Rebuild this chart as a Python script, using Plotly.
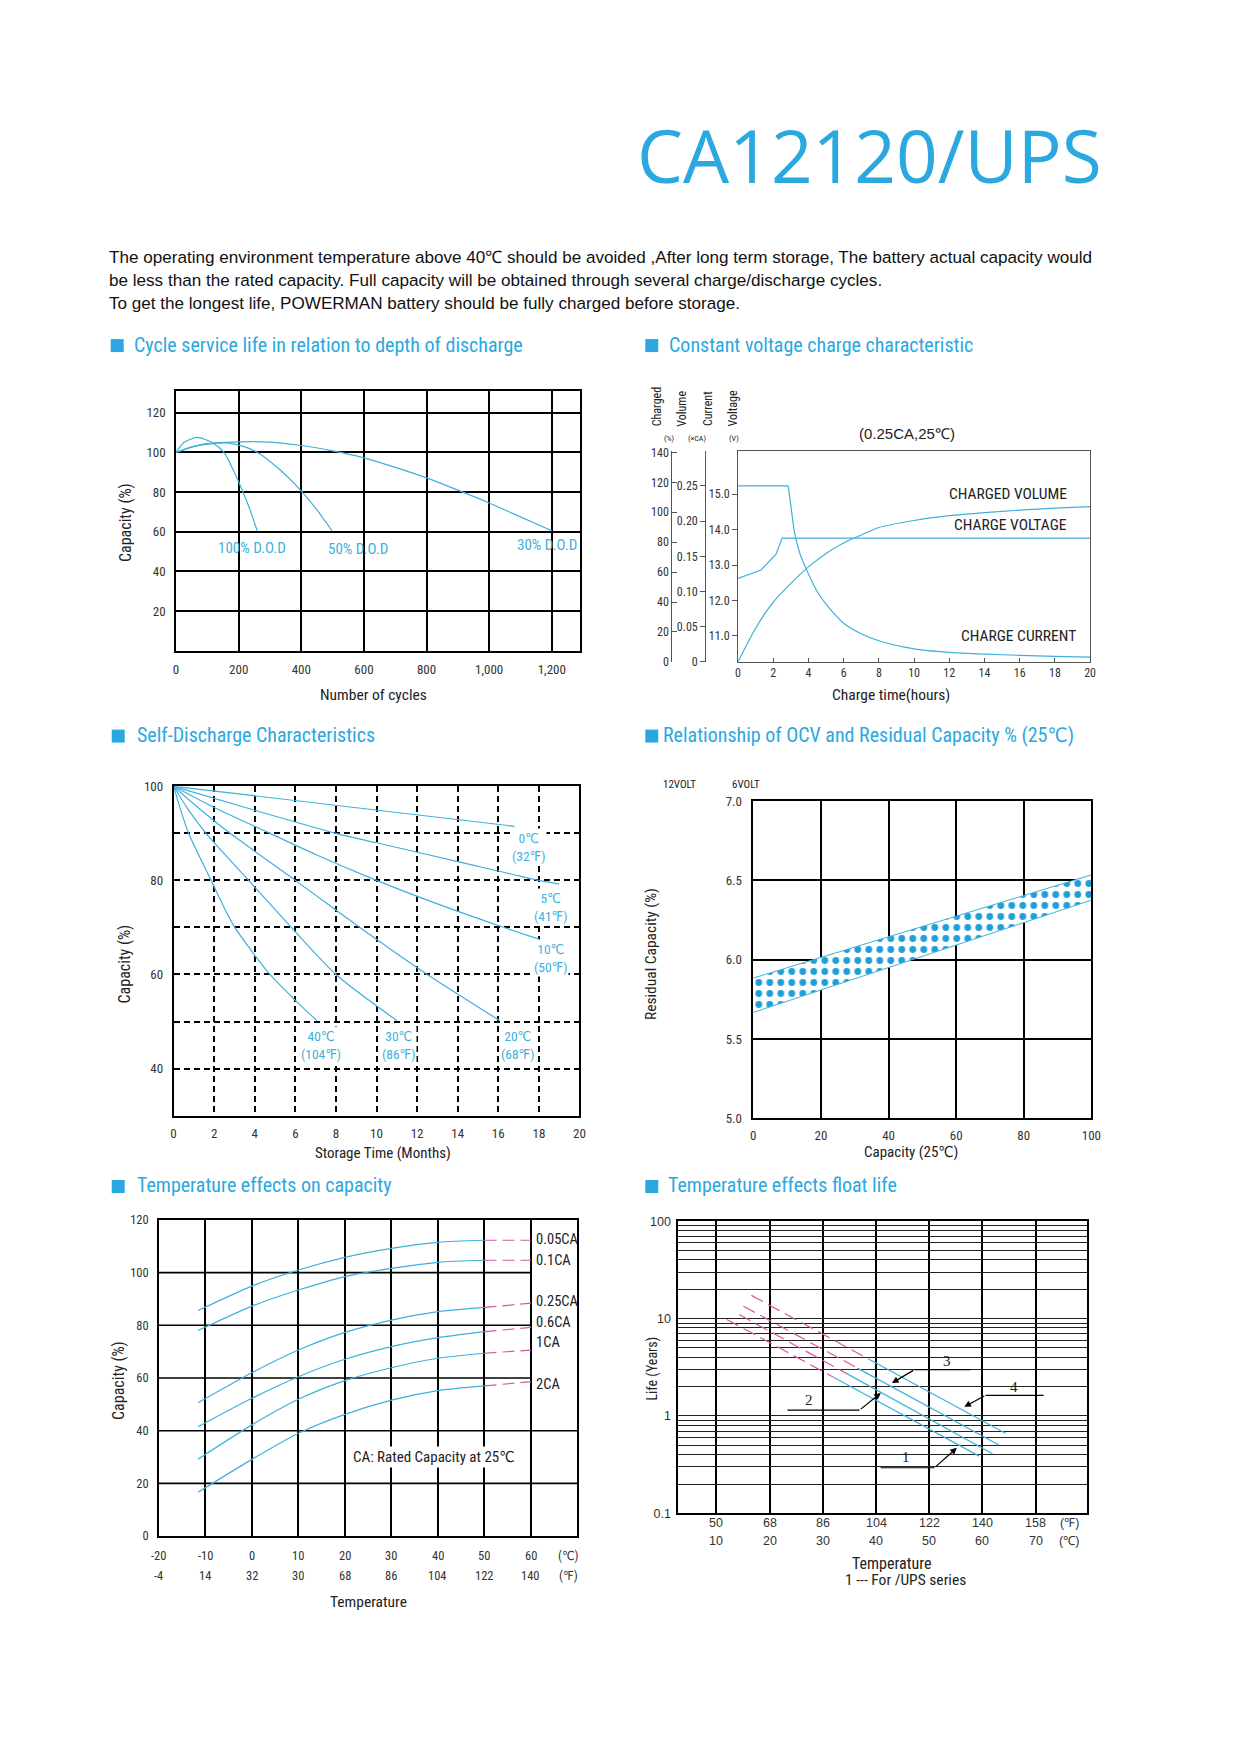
import math
import plotly.graph_objects as go

# the page is photographed a little shrunk and shifted; page coordinates read from the
# reference are mapped back through that (measured) transform
SCALE = 0.992
CX, CY = 10, 14
W, H = 1220, 1725
BLUE = '#3fb0dc'
PINK = '#d9589f'
TITLE_BLUE = '#2aa8df'
INK = '#222222'
NARROW = 'Liberation Sans Narrow, Arial Narrow, Roboto Condensed, DejaVu Sans Condensed, Liberation Sans, sans-serif'
REGULAR = 'Liberation Sans, Arial, sans-serif'

# --- Cycle service life vs depth of discharge ---
cycles_100 = [0, 25, 68, 115, 153, 180, 206, 233, 259]
cap_100 = [100, 105, 107.6, 105, 100, 92, 83, 72.5, 60.5]
cycles_50 = [0, 50, 100, 160, 210, 260, 330, 400, 450, 498]
cap_50 = [100, 102.8, 104.2, 104.8, 103.3, 100, 91.5, 80.5, 71, 60.5]
cycles_30 = [0, 80, 200, 300, 400, 500, 600, 700, 800, 900, 1000, 1100, 1200]
cap_30 = [100, 104, 105.3, 105.2, 103.5, 100.8, 97.3, 92.5, 87.2, 81, 74.5, 67.5, 60.5]
dod_labels = ['100% D.O.D', '50% D.O.D', '30% D.O.D']

# --- Constant voltage charge characteristic ---
t_current = [0, 2.85, 3.0, 3.2, 3.5, 4.0, 4.5, 5.0, 6.0, 7.0, 8.0, 10, 12, 14, 16, 18, 20]
charge_current = [0.25, 0.25, 0.222, 0.185, 0.155, 0.125, 0.1, 0.082, 0.055, 0.04, 0.03,
                  0.0185, 0.0135, 0.011, 0.0093, 0.0078, 0.0066]
t_voltage = [0, 1.3, 2.15, 2.35, 2.5, 20]
charge_voltage = [12.62, 12.86, 13.3, 13.6, 13.76, 13.76]
t_volume = [0, 1, 2, 3, 4, 5, 6, 7, 8, 10, 12, 14, 16, 18, 20]
charged_volume = [0, 22.5, 40, 52.5, 63.5, 72.5, 79.5, 84.8, 89.8, 94.5, 97.7, 99.8, 101.4, 102.7, 103.7]

# --- Self-discharge ---
sd_months = {
    '0': [0, 16.8],
    '5': [0, 4, 8, 10, 14, 18, 19],
    '10': [0, 2, 4.75, 7, 10, 13, 16.07, 18],
    '20': [0, 1.2, 2.79, 6, 9.18, 12.5, 16.07],
    '30': [0, 0.7, 1.6, 3.7, 5.8, 8.0, 11.0],
    '40': [0, 0.35, 0.74, 1.85, 2.95, 4.75, 6.0, 7.06],
}
sd_capacity = {
    '0': [100, 91.5],
    '5': [100, 94.9, 90, 88, 84, 80, 79.2],
    '10': [100, 95.5, 90, 85.5, 80, 75, 70.3, 67.5],
    '20': [100, 95.5, 90, 80, 70, 60, 50.2],
    '30': [100, 95.2, 90, 80, 70, 60, 50.2],
    '40': [100, 95, 90, 80, 70.5, 60, 54.5, 50.2],
}
sd_labels = ['0℃<br>(32℉)', '5℃<br>(41℉)', '10℃<br>(50℉)',
             '40℃<br>(104℉)', '30℃<br>(86℉)', '20℃<br>(68℉)']

# --- OCV vs residual capacity ---
ocv_capacity = [0, 100]
ocv_upper_6v = [5.884, 6.534]
ocv_lower_6v = [5.667, 6.375]

# --- Temperature effects on capacity ---
temp_c = [-11.6, 0, 10, 20, 30, 40, 50]
temp_ext = [50, 60]
cap_rates = ['0.05CA', '0.1CA', '0.25CA', '0.6CA', '1CA', '2CA']
cap_by_rate = [
    [85.6, 94.9, 101, 105.8, 109.2, 111.5, 112.3],
    [78, 87.3, 93.4, 98.5, 101.6, 103.9, 104.7],
    [50.6, 62, 70.6, 77.3, 82, 85.2, 86.8],
    [41.5, 52.3, 60.5, 67.1, 71.9, 75.3, 77.6],
    [29.2, 42.2, 51.9, 59, 63.9, 67.5, 69.4],
    [16.6, 29.1, 39, 46.2, 51.6, 55.2, 57],
]
cap_ext_end = [112.3, 104.7, 88.4, 79.2, 70.6, 58.6]
temp_c_ticks = [-20, -10, 0, 10, 20, 30, 40, 50, 60]
temp_f_ticks = ['-4', '14', '32', '30', '68', '86', '104', '122', '140']

# --- Temperature effects float life ---
fl_start_x = [11.94, 14.25, 15.06, 16.56]
fl_start_y = [9.8, 11.0, 13.4, 17.3]
fl_mid_x = [32.0, 34.5, 36.5, 38.5]
fl_mid_y = [2.50, 2.72, 3.10, 3.87]
fl_end_x = [59.4, 61.9, 63.2, 64.4]
fl_end_y = [0.387, 0.41, 0.50, 0.66]
fl_c_ticks = [10, 20, 30, 40, 50, 60, 70]
fl_f_ticks = ['50', '68', '86', '104', '122', '140', '158']


def fx(x):
    return (x - CX) / SCALE / W


def fy(y):
    return 1 - (y - CY) / SCALE / H


def dom_x(a, b):
    return [fx(a), fx(b)]


def dom_y(top, bottom):
    return [fy(bottom), fy(top)]


def line(x, y, xa, ya, color=BLUE, dash=None, shape='spline', width=1.2):
    return go.Scatter(x=x, y=y, mode='lines', xaxis=xa, yaxis=ya, hoverinfo='skip',
                      showlegend=False,
                      line=dict(color=color, width=width, dash=dash, shape=shape,
                                smoothing=0.7 if shape == 'spline' else None))


annotations = []
shapes = []


def note(x, y, text, size, color=INK, family=NARROW, xanchor='center', yanchor='middle',
         angle=0, xref='paper', yref='paper', bg=None):
    if xref == 'paper':
        x = fx(x)
    if yref == 'paper':
        y = fy(y)
    d = dict(x=x, y=y, xref=xref, yref=yref, text=text, showarrow=False,
             font=dict(size=size, color=color, family=family),
             xanchor=xanchor, yanchor=yanchor, textangle=angle)
    if bg:
        d['bgcolor'] = bg
    annotations.append(d)


fig = go.Figure()

# chart 1
for xs, ys in [(cycles_100, cap_100), (cycles_50, cap_50), (cycles_30, cap_30)]:
    fig.add_trace(line(xs, ys, 'x', 'y'))
for lbl, (lx, ly) in zip(dod_labels, [(241, 51.9), (581, 51.4), (1185, 53.4)]):
    note(lx, ly, lbl, 15, color=BLUE, xref='x', yref='y')

# chart 2
fig.add_trace(line(t_current[:2], charge_current[:2], 'x2', 'y3', shape='linear'))
fig.add_trace(line(t_current[1:], charge_current[1:], 'x2', 'y3'))
fig.add_trace(line(t_voltage, charge_voltage, 'x2', 'y2', shape='linear'))
fig.add_trace(line(t_volume, charged_volume, 'x2', 'y4'))

# chart 3
for key in sd_months:
    fig.add_trace(line(sd_months[key], sd_capacity[key], 'x3', 'y5'))
sd_label_pos = [(16.56, 87), (17.66, 74.4), (17.66, 63.4), (6.19, 44.9), (10.17, 44.9), (16.04, 44.9)]
for lbl, (lx, ly) in zip(sd_labels, sd_label_pos):
    note(lx, ly, lbl, 13.5, color=BLUE, xanchor='left', xref='x3', yref='y5', bg='white')

# chart 4
fig.add_trace(line(ocv_capacity, ocv_lower_6v, 'x4', 'y6', shape='linear', width=1))
fig.add_trace(go.Scatter(x=ocv_capacity, y=ocv_upper_6v, mode='lines', xaxis='x4', yaxis='y6',
                         fill='tonexty', fillcolor='white', hoverinfo='skip', showlegend=False,
                         fillpattern=dict(shape='.', fgcolor='#1f9fd9', fgopacity=1,
                                          bgcolor='white', size=11, solidity=0.3),
                         line=dict(color=BLUE, width=1)))

# chart 5
for i, ys in enumerate(cap_by_rate):
    fig.add_trace(line(temp_c, ys, 'x5', 'y8'))
    fig.add_trace(line(temp_ext, [ys[-1], cap_ext_end[i]], 'x5', 'y8', color=PINK,
                       dash='12px,6px', shape='linear'))
for lbl, ly in zip(cap_rates, [112.4, 104.6, 89, 81, 73.4, 57.7]):
    note(60.6, ly, lbl, 14.5, xanchor='left', xref='x5', yref='y8')
note(21.2, 30.1, 'CA: Rated Capacity at 25℃', 15, xanchor='left', xref='x5', yref='y8', bg='white')
for yv, x_end in [(20, 70), (40, 70), (60, 60), (80, 60), (100, 60)]:
    shapes.append(dict(type='line', xref='x5', yref='y8', x0=-20, x1=x_end, y0=yv, y1=yv,
                       line=dict(color='black', width=1.6), layer='below'))
for tc, tf in zip(temp_c_ticks, temp_f_ticks):
    note(tc, 1555, str(tc), 12.5, xref='x5', color='#333')
    note(tc, 1576, tf, 12.5, xref='x5', color='#333')
note(68, 1555, '(℃)', 12.5, xref='x5', color='#333')
note(68, 1576, '(℉)', 12.5, xref='x5', color='#333')

# chart 6
for i in range(4):
    fig.add_trace(line([fl_start_x[i], fl_mid_x[i]], [fl_start_y[i], fl_mid_y[i]], 'x6', 'y9',
                       color=PINK, dash='13px,6px', shape='linear'))
    fig.add_trace(line([fl_mid_x[i], fl_end_x[i]], [fl_mid_y[i], fl_end_y[i]], 'x6', 'y9',
                       shape='linear'))
# leader lines: (label, label pos, elbow, target, horizontal length px)
leaders = [
    ('3', (53.3, 3.67), (47.25, 2.99), (43.0, 2.18), 57),
    ('4', (65.9, 1.99), (60.6, 1.63), (56.6, 1.24), 59),
    ('2', (27.4, 1.45), (36.9, 1.146), (40.9, 1.725), -73),
    ('1', (45.7, 0.381), (51.0, 0.294), (55.2, 0.471), -55),
]
PXC = 16 / 3 / SCALE          # px per degC
PXD = 292.7 / 3 / SCALE       # px per decade
for lbl, (tx, ty), (ex, ey), (gx, gy), hl in leaders:
    note(tx, math.log10(ty), lbl, 15, family='Liberation Serif, serif', xref='x6', yref='y9')
    annotations.append(dict(x=ex, y=math.log10(ey), xref='x6', yref='y9', text='',
                            showarrow=True, arrowhead=0, arrowwidth=1.2, arrowcolor='black',
                            ax=hl / SCALE, ay=0, standoff=0, startstandoff=0))
    annotations.append(dict(x=gx, y=math.log10(gy), xref='x6', yref='y9', text='',
                            showarrow=True, arrowhead=2, arrowsize=1.1, arrowwidth=1.2,
                            arrowcolor='black',
                            ax=(ex - gx) * PXC, ay=-(math.log10(ey) - math.log10(gy)) * PXD,
                            standoff=0, startstandoff=0))
for tc, tf in zip(fl_c_ticks, fl_f_ticks):
    note(tc, 1523, tf, 12.5, family=REGULAR, xref='x6', color='#333')
    note(tc, 1541, str(tc), 12.5, family=REGULAR, xref='x6', color='#333')
note(1071, 1523, '(℉)', 12.5, family=REGULAR, color='#333')
note(1071, 1541, '(℃)', 12.5, family=REGULAR, color='#333')

# --- page text ---
note(871, 153, 'CA12120/UPS', 73, color=TITLE_BLUE, family='Open Sans, sans-serif')
body = [
    'The operating environment temperature above 40℃ should be avoided ,After long term storage, The battery actual capacity would',
    'be less than the rated capacity. Full capacity will be obtained through several charge/discharge cycles.',
    'To get the longest life, POWERMAN battery should be fully charged before storage.',
]
for txt, yy in zip(body, [256, 279, 302]):
    note(106, yy, txt, 17.1, family=REGULAR, xanchor='left', color='#111')

sections = [
    (110, 131, 344, 'Cycle service life in relation to depth of discharge'),
    (646, 668, 344, 'Constant voltage charge characteristic'),
    (111, 134, 735, 'Self-Discharge Characteristics'),
    (646, 662, 735, 'Relationship of OCV and Residual Capacity % (25℃)'),
    (111, 134, 1186, 'Temperature effects on capacity'),
    (646, 667, 1186, 'Temperature effects float life'),
]
for sx, tx, sy, txt in sections:
    shapes.append(dict(type='rect', xref='paper', yref='paper', x0=fx(sx), x1=fx(sx + 13),
                       y0=fy(sy + 6.5), y1=fy(sy - 6.5),
                       fillcolor=TITLE_BLUE, line=dict(width=0)))
    note(tx, sy - 1, txt, 20, color=TITLE_BLUE, xanchor='left')

# axis titles
note(125, 521, 'Capacity (%)', 16, angle=-90)
note(373, 694, 'Number of cycles', 15.5)
note(892, 694, 'Charge time(hours)', 15.5)
for xx, txt in [(658, 'Charged'), (683, 'Volume'), (709, 'Current'), (734, 'Voltage')]:
    note(xx, 427, txt, 12, angle=-90, yanchor='bottom')
for xx, txt in [(670, '(%)'), (698, '(×CA)'), (735, '(V)')]:
    note(xx, 437, txt, 8)
note(908, 432, '(0.25CA,25℃)', 15, family=REGULAR)
note(1071, 493, 'CHARGED VOLUME', 15.5, xanchor='right')
note(1071, 524, 'CHARGE VOLTAGE', 15.5, xanchor='right')
note(1080, 635, 'CHARGE CURRENT', 15.5, xanchor='right')
note(124, 963, 'Capacity (%)', 16, angle=-90)
note(383, 1152, 'Storage Time (Months)', 15)
note(652, 953, 'Residual Capacity (%)', 15.5, angle=-90)
note(912, 1151, 'Capacity (25℃)', 15)
note(680, 783, '12VOLT', 11)
note(747, 783, '6VOLT', 11)
note(118, 1380, 'Capacity (%)', 16, angle=-90)
note(368, 1602, 'Temperature', 15.5)
note(653, 1368, 'Life (Years)', 14, angle=-90)
note(893, 1563, 'Temperature', 16)
note(907, 1580, '1 --- For /UPS series', 15.5)

tick = dict(family=NARROW, size=13, color='#333')
frame = dict(showline=True, mirror=True, linecolor='black', linewidth=1.5, zeroline=False)
grid = dict(showgrid=True, gridcolor='black', gridwidth=1.6)

log_vals = [m * 10 ** e for e in (-1, 0, 1) for m in range(1, 10)] + [100]
log_text = ['0.1' if v == 0.1 else '1' if v == 1 else '10' if v == 10 else '100' if v == 100 else ''
            for v in log_vals]

fig.update_layout(
    width=W, height=H, margin=dict(l=0, r=0, t=0, b=0),
    paper_bgcolor='white', plot_bgcolor='white', showlegend=False,
    annotations=annotations, shapes=shapes,
    # chart 1
    xaxis=dict(domain=dom_x(175.5, 580.5), anchor='y', range=[0, 1290],
               tickvals=[0, 200, 400, 600, 800, 1000, 1200], tickformat=',', tickfont=tick,
               ticklabelstandoff=6, **frame, **grid),
    yaxis=dict(domain=dom_y(389.5, 649.5), anchor='x', range=[0, 131],
               tickvals=[20, 40, 60, 80, 100, 120], tickfont=tick, ticklabelstandoff=6,
               **frame, **grid),
    # chart 2
    xaxis2=dict(domain=dom_x(739, 1092), anchor='y2', range=[0, 20], dtick=2,
                ticks='inside', ticklen=4, tickcolor='#555', tickfont=dict(tick, size=12),
                showgrid=False, showline=True, mirror=True, linecolor='#555', linewidth=1,
                zeroline=False),
    yaxis2=dict(domain=dom_y(449.3, 660.7), anchor='x2', range=[10.27, 16.22],
                tickvals=[11, 12, 13, 14, 15], ticktext=['11.0', '12.0', '13.0', '14.0', '15.0'],
                ticks='outside', ticklen=5, tickcolor='#555', tickfont=dict(tick, size=12),
                showgrid=False, showline=True, mirror=True, linecolor='#555', linewidth=1,
                zeroline=False),
    yaxis3=dict(overlaying='y2', anchor='free', position=fx(706), side='left', range=[0, 0.3],
                tickvals=[0, 0.05, 0.1, 0.15, 0.2, 0.25],
                ticktext=['0', '0.05', '0.10', '0.15', '0.20', '0.25'],
                ticks='outside', ticklen=5, tickcolor='#555', tickfont=dict(tick, size=12),
                showgrid=False, showline=True, linecolor='#555', linewidth=1, zeroline=False),
    yaxis4=dict(overlaying='y2', anchor='free', position=fx(672), side='left', range=[0, 141.1],
                tickvals=[0, 20, 40, 60, 80, 100, 120, 140],
                ticks='inside', ticklen=5, tickcolor='#555', tickfont=dict(tick, size=12),
                showgrid=False, showline=True, linecolor='#555', linewidth=1, zeroline=False),
    # chart 3
    xaxis3=dict(domain=dom_x(173, 580), anchor='y5', range=[0, 20], dtick=2, tickfont=tick,
                ticklabelstandoff=5, griddash='6px,4px', **frame, **grid),
    yaxis5=dict(domain=dom_y(785.3, 1115), anchor='x3', range=[30, 100],
                tickvals=[40, 50, 60, 70, 80, 90, 100],
                ticktext=['40', '', '60', '', '80', '', '100'], tickfont=tick,
                ticklabelstandoff=6, griddash='6px,4px', **frame, **grid),
    # chart 4
    xaxis4=dict(domain=dom_x(754.3, 1093.3), anchor='y6', range=[0, 100], dtick=20,
                tickfont=tick, ticklabelstandoff=4, **frame, **grid),
    yaxis6=dict(domain=dom_y(800, 1117.7), anchor='x4', range=[5, 7],
                tickvals=[5, 5.5, 6, 6.5, 7], ticktext=['5.0', '5.5', '6.0', '6.5', '7.0'],
                tickfont=tick, ticklabelstandoff=7, **frame, **grid),
    yaxis7=dict(overlaying='y6', anchor='free', position=fx(703.3), side='left', range=[10, 14],
                tickvals=[10, 11, 12, 13, 14], ticktext=['10.0', '11.0', '12.0', '13.0', '14.0'],
                ticks='outside', ticklen=9, tickcolor='black', tickfont=tick,
                showgrid=False, showline=True, linecolor='black', linewidth=1.2, zeroline=False),
    # chart 5
    xaxis5=dict(domain=dom_x(158.3, 578), anchor='y8', range=[-20, 70],
                tickvals=[-10, 0, 10, 20, 30, 40, 50, 60], showticklabels=False,
                **frame, **grid),
    yaxis8=dict(domain=dom_y(1219.5, 1536), anchor='x5', range=[0, 120], dtick=20,
                tickfont=dict(tick, size=12.5), ticklabelstandoff=6, showgrid=False,
                showline=True, mirror=True, linecolor='black', linewidth=1.5, zeroline=False),
    # chart 6
    xaxis6=dict(domain=dom_x(679, 1089.3), anchor='y9', range=[2.8, 79.75],
                tickvals=fl_c_ticks, showticklabels=False, **frame, **grid),
    yaxis9=dict(domain=dom_y(1220.7, 1513.3), anchor='x6', type='log', range=[-1, 2],
                tickvals=log_vals, ticktext=log_text, tickfont=dict(family=REGULAR, size=12.5, color='#333'),
                ticklabelstandoff=3, showline=True, mirror=True, linecolor='black', linewidth=1.5,
                zeroline=False, showgrid=True, gridcolor='#222', gridwidth=1.4),
)

fig.write_html('out.html')
